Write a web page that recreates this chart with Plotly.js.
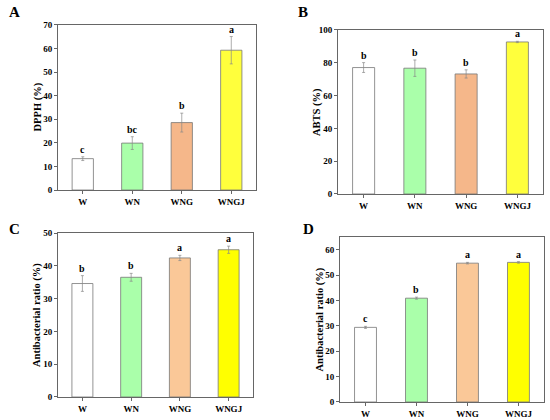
<!DOCTYPE html>
<html><head><meta charset="utf-8">
<script src="https://cdn.plot.ly/plotly-3.0.1.min.js"></script>
<style>html,body{margin:0;padding:0;background:#fff}#c{width:550px;height:420px}</style>
</head><body><div id="c"></div>
<script>
const categories = ["W","WN","WNG","WNGJ"];
const dpphVals = [13.3, 19.9, 28.6, 59.3];
const dpphErr = [0.8, 2.7, 4.0, 5.8];
const dpphLetters = ["c","bc","b","a"];
const abtsVals = [77.1, 76.7, 73.2, 92.7];
const abtsErr = [3.0, 5.0, 2.5, 0.4];
const abtsLetters = ["b","b","b","a"];
const antiCVals = [34.6, 36.5, 42.4, 44.9];
const antiCErr = [2.4, 1.2, 0.8, 1.1];
const antiCLetters = ["b","b","a","a"];
const antiDVals = [29.4, 40.9, 54.7, 55.0];
const antiDErr = [0.4, 0.4, 0.3, 0.3];
const antiDLetters = ["c","b","a","a"];

const colorsAB = ["#ffffff","#aaffaa","#f5b78a","#ffff3c"];
const colorsCD = ["#ffffff","#aaffaa","#fac898","#ffff00"];

const F = "Liberation Serif, Times New Roman, serif";
const panels = [
  {v:dpphVals,e:dpphErr,l:dpphLetters,c:colorsAB,ax:"",title:"DPPH (%)",range:[0,70],dtick:10,
   xd:[0.1055,0.4655],yd:[0.5476,0.9405],tx:38},
  {v:abtsVals,e:abtsErr,l:abtsLetters,c:colorsAB,ax:"2",title:"ABTS (%)",range:[0,100],dtick:20,
   xd:[0.6145,0.9873],yd:[0.5381,0.9286],tx:317},
  {v:antiCVals,e:antiCErr,l:antiCLetters,c:colorsCD,ax:"3",title:"Antibacterial ratio (%)",range:[0,50],dtick:10,
   xd:[0.1055,0.46],yd:[0.0548,0.4452],tx:37},
  {v:antiDVals,e:antiDErr,l:antiDLetters,c:colorsCD,ax:"4",title:"Antibacterial ratio (%)",range:[0,65],dtick:10,
   xd:[0.6182,0.989],yd:[0.0429,0.4357],tx:320}
];
const data = [];
const layout = {width:550,height:420,margin:{l:0,r:0,t:0,b:0},paper_bgcolor:"#fff",plot_bgcolor:"#fff",
  showlegend:false,font:{family:F,color:"#000"},annotations:[]};
panels.forEach((p,i)=>{
  data.push({type:"bar",x:categories,y:p.v,xaxis:"x"+p.ax,yaxis:"y"+p.ax,width:0.43,
    marker:{color:p.c,line:{color:"#777",width:0.8}},
    error_y:{type:"data",array:p.e,visible:true,color:"#888",thickness:0.7,width:1.5},hoverinfo:"none"});
  const axStyle = {showline:true,linecolor:"#666",linewidth:1,mirror:true,ticks:"outside",ticklen:3,
    tickcolor:"#666",tickfont:{family:F,size:9,color:"#000",weight:"bold"},showgrid:false,zeroline:false};
  layout["xaxis"+p.ax] = Object.assign({},axStyle,{domain:p.xd,anchor:"y"+p.ax,range:[-0.5,3.5],type:"category"});
  layout["yaxis"+p.ax] = Object.assign({},axStyle,{domain:p.yd,anchor:"x"+p.ax,range:p.range,dtick:p.dtick});
  layout.annotations.push({xref:"paper",yref:"paper",x:p.tx/550,y:(p.yd[0]+p.yd[1])/2,text:p.title,
    textangle:-90,showarrow:false,xanchor:"center",yanchor:"middle",
    font:{family:F,size:10.5,color:"#000",weight:"bold"}});
  p.l.forEach((t,j)=>{
    layout.annotations.push({xref:"x"+p.ax,yref:"y"+p.ax,x:categories[j],y:p.v[j]+p.e[j],text:t,
      showarrow:false,yanchor:"bottom",yshift:0,font:{family:F,size:10,color:"#000",weight:"bold"}});
  });
});
const letters = [["A",14,12],["B",303,12],["C",14,229],["D",308,229]];
letters.forEach(([t,x,y])=>{
  layout.annotations.push({xref:"paper",yref:"paper",x:x/550,y:1-y/420,text:t,showarrow:false,
    xanchor:"center",yanchor:"middle",font:{family:F,size:15,color:"#000",weight:"bold"}});
});
Plotly.newPlot("c",data,layout,{staticPlot:true});
</script></body></html>
